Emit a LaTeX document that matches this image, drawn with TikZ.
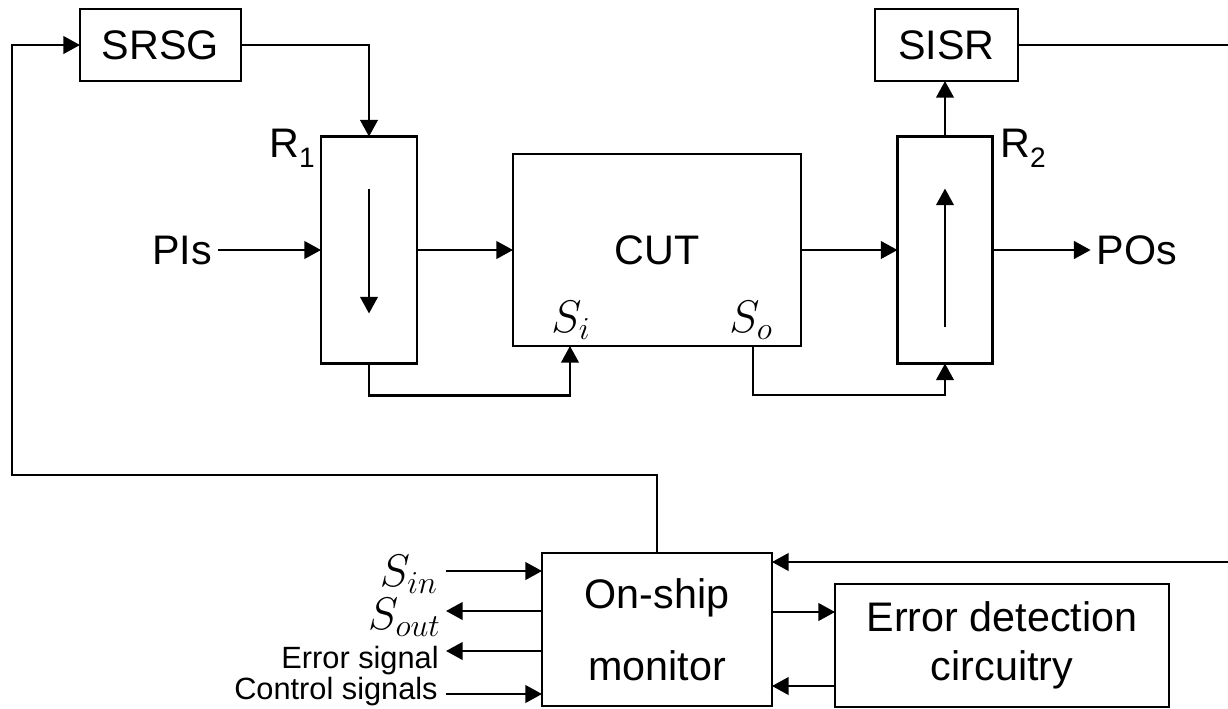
\RequirePackage{fix-cm}
\documentclass[tikz,border=0pt]{standalone}
\usepackage{fontspec}
\setmainfont{Liberation Sans}
\usetikzlibrary{calc, arrows.meta}

\newcommand{\regsub}[1]{{\fontsize{16}{16}\selectfont\raisebox{-5.7pt}{#1}}}

\begin{document}
\begin{tikzpicture}[x=0.02cm, y=-0.02cm]
  \tikzstyle{big} = [font=\fontsize{23.5}{28}\selectfont]
  \tikzstyle{sym} = [font=\fontsize{26}{30}\selectfont, inner sep=0pt]
  \tikzstyle{small} = [font=\fontsize{17.5}{20}\selectfont, inner sep=0pt]
  \tikzstyle{block} = [big, draw, line width=1.4pt, inner sep=0pt, outer sep=0pt]
  \tikzstyle{line} = [line width=1.4pt]
  \tikzstyle{wire} = [line, -{Triangle[length=9.5pt, width=10pt]}]
  \useasboundingbox (0,0) rectangle (1228,708);

  \node[block, minimum width=3.22cm, minimum height=1.44cm] (srsg) at (160.5,45) {SRSG};
  \node[block, minimum width=1.92cm, minimum height=4.54cm] (rone) at (369,250) {};
  \node[block, minimum width=5.76cm, minimum height=3.84cm] (cut) at (657,250) {CUT};
  \node[block, minimum width=1.9cm, minimum height=4.54cm] (rtwo) at (945,250) {};
  \node[block, minimum width=2.86cm, minimum height=1.44cm] (sisr) at (946.5,45) {SISR};
  \node[block, minimum width=4.6cm, minimum height=3.06cm, align=center] (mon) at (657,629.5) {On-ship\\[0.45cm]monitor};
  \node[block, minimum width=6.68cm, minimum height=2.46cm, align=center] (edc) at (1002,645.5) {Error detection\\circuitry};

  \node[big] (pis) at (182,250) {PIs};
  \node[big] (pos) at (1137,250) {POs};
  \node[big, inner sep=0pt, anchor=base west] (rl1) at (269,157) {R\regsub{1}};
  \node[big, inner sep=0pt, anchor=base west] (rl2) at (1000,157) {R\regsub{2}};
  \node[sym] (si) at (571,320) {$S_i$};
  \node[sym] (so) at (751,320) {$S_o$};
  \node[sym, anchor=east] (sinl) at (438,574) {$S_{in}$};
  \node[sym, anchor=east] (soutl) at (441,617) {$S_{out}$};
  \node[small, anchor=east] (errl) at (439,661) {Error signal};
  \node[small, anchor=east] (ctll) at (438,692) {Control signals};

  \coordinate (fb) at (12,475);
  \coordinate (siin) at (570,346);
  \coordinate (soout) at (753,346);
  \coordinate (sisrout) at (1228,45);
  \coordinate (monin) at (1228,562);
  \coordinate (toedc) at (800,612);
  \coordinate (fromedc) at (800,686);
  \coordinate (sinp) at (446,571);
  \coordinate (soutp) at (446,611);
  \coordinate (errp) at (446,651);
  \coordinate (ctlp) at (446,694);

  \draw[wire] (mon.north) |- (fb) |- (srsg.west);
  \draw[wire] (srsg.east) -| (rone.north);
  \draw[wire] (pis) -- (rone.west);
  \draw[wire] ($(rone.north)+(0,52)$) -- ($(rone.south)+(0,-50)$);
  \draw[wire] (rone.east) -- (cut.west);
  \draw[wire] (rone.south) -- ++(0,32) -| (siin);
  \draw[wire] (soout) -- ++(0,49) -| (rtwo.south);
  \draw[wire] (cut.east) -- (rtwo.west);
  \draw[wire] ($(rtwo.south)+(0,-36)$) -- ($(rtwo.north)+(0,52)$);
  \draw[wire] (rtwo.north) -- (rtwo.north |- sisr.south);
  \draw[wire] (rtwo.east) -- (pos);
  \draw[line] (sisr.east) -- (sisrout);
  \draw[wire] (monin) -- (mon.east |- monin);
  \draw[wire] (mon.east |- toedc) -- (edc.west |- toedc);
  \draw[wire] (edc.west |- fromedc) -- (mon.east |- fromedc);
  \draw[wire] (sinp) -- (sinp -| mon.west);
  \draw[wire] (soutp -| mon.west) -- (soutp);
  \draw[wire] (errp -| mon.west) -- (errp);
  \draw[wire] (ctlp) -- (ctlp -| mon.west);
\end{tikzpicture}
\end{document}
